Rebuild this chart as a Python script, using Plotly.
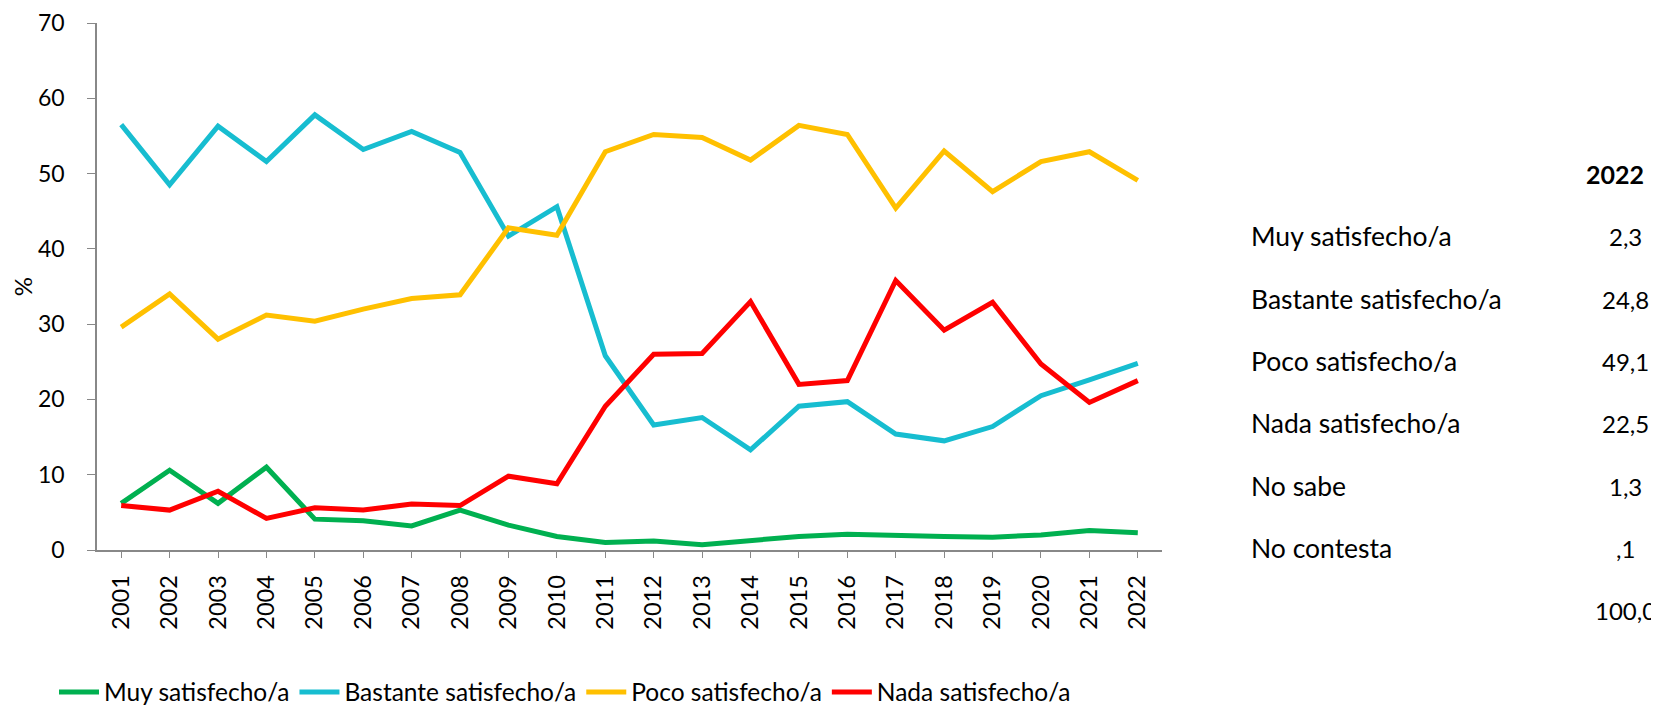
import plotly.graph_objects as go

years = [str(y) for y in range(2001, 2023)]
muy = [6.2, 10.6, 6.2, 11.0, 4.1, 3.9, 3.2, 5.3, 3.3, 1.8, 1.0, 1.2, 0.7, 1.3, 1.8, 2.1, 1.9, 1.8, 1.7, 2.0, 2.6, 2.3]
bastante = [56.5, 48.5, 56.3, 51.6, 57.8, 53.2, 55.6, 52.8, 41.7, 45.6, 25.8, 16.6, 17.6, 13.3, 19.1, 19.7, 15.4, 14.5, 16.4, 20.5, 22.6, 24.8]
poco = [29.6, 34.0, 28.0, 31.2, 30.4, 32.0, 33.4, 33.9, 42.8, 41.8, 52.9, 55.2, 54.8, 51.8, 56.4, 55.2, 45.4, 53.0, 47.6, 51.6, 52.9, 49.1]
nada = [5.9, 5.3, 7.8, 4.2, 5.6, 5.3, 6.1, 5.9, 9.8, 8.8, 19.1, 26.0, 26.1, 33.0, 22.0, 22.5, 35.8, 29.2, 32.9, 24.7, 19.6, 22.5]

series_names = ["Muy satisfecho/a", "Bastante satisfecho/a", "Poco satisfecho/a", "Nada satisfecho/a"]
series_colors = ["#00B050", "#17BDD0", "#FFC000", "#FF0000"]

table_title = "2022"
table_labels = ["Muy satisfecho/a", "Bastante satisfecho/a", "Poco satisfecho/a", "Nada satisfecho/a", "No sabe", "No contesta", ""]
table_values = ["2,3", "24,8", "49,1", "22,5", "1,3", ",1", "100,0"]

FONT = "Lato"
W, H = 1659, 706
L, R, T, B = 89, 1154, 15, 542

def px_x(px):
    return (px - L) / (R - L)

def px_y(py):
    return (B - py) / (B - T)

fig = go.Figure()
for name, vals, col in zip(series_names, [muy, bastante, poco, nada], series_colors):
    fig.add_trace(go.Scatter(x=years, y=vals, mode="lines", name=name,
                             line=dict(color=col, width=5)))

ann = []
ann.append(dict(x=px_x(1607), y=px_y(166), xref="paper", yref="paper", text="<b>%s</b>" % table_title,
                showarrow=False, xanchor="center", yanchor="middle", font=dict(size=25, color="#000", family=FONT)))
row_y = [228, 291, 353, 415, 478, 540, 602]
for lab, val, ry in zip(table_labels, table_values, row_y):
    if lab:
        ann.append(dict(x=px_x(1241), y=px_y(ry), xref="paper", yref="paper", text=lab, showarrow=False,
                        xanchor="left", yanchor="middle", font=dict(size=26.5, color="#000", family=FONT)))
    ann.append(dict(x=px_x(1617), y=px_y(ry), xref="paper", yref="paper", text=val, showarrow=False,
                    xanchor="center", yanchor="middle", font=dict(size=24, color="#000", family=FONT)))

fig.update_layout(
    width=W, height=H, autosize=False,
    margin=dict(l=L, r=W - R, t=T, b=H - B, autoexpand=False),
    paper_bgcolor="white", plot_bgcolor="white",
    font=dict(family=FONT, size=24, color="#000"),
    showlegend=True,
    legend=dict(orientation="h", x=px_x(46), y=px_y(684), xanchor="left", yanchor="middle",
                font=dict(size=24.5, family=FONT), itemwidth=40, tracegroupgap=0),
    annotations=ann,
    xaxis=dict(type="category", range=[-0.5, 21.5], tickangle=-90, ticks="outside", ticklen=6,
               tickcolor="#888", showline=True, linecolor="#888", linewidth=1.5, showgrid=False,
               tickfont=dict(size=23.5, family=FONT), ticklabelstandoff=8, ticklabeloverflow="allow",
               fixedrange=True),
    yaxis=dict(range=[0, 70], dtick=10, ticks="outside", ticklen=8, tickcolor="#888",
               showline=True, linecolor="#888", linewidth=1.5, showgrid=False, zeroline=False,
               tickfont=dict(size=23, family=FONT), ticklabelstandoff=18, ticklabeloverflow="allow",
               title=dict(text="%", font=dict(size=24, family=FONT), standoff=2)),
)

fig.write_html("out.html")
